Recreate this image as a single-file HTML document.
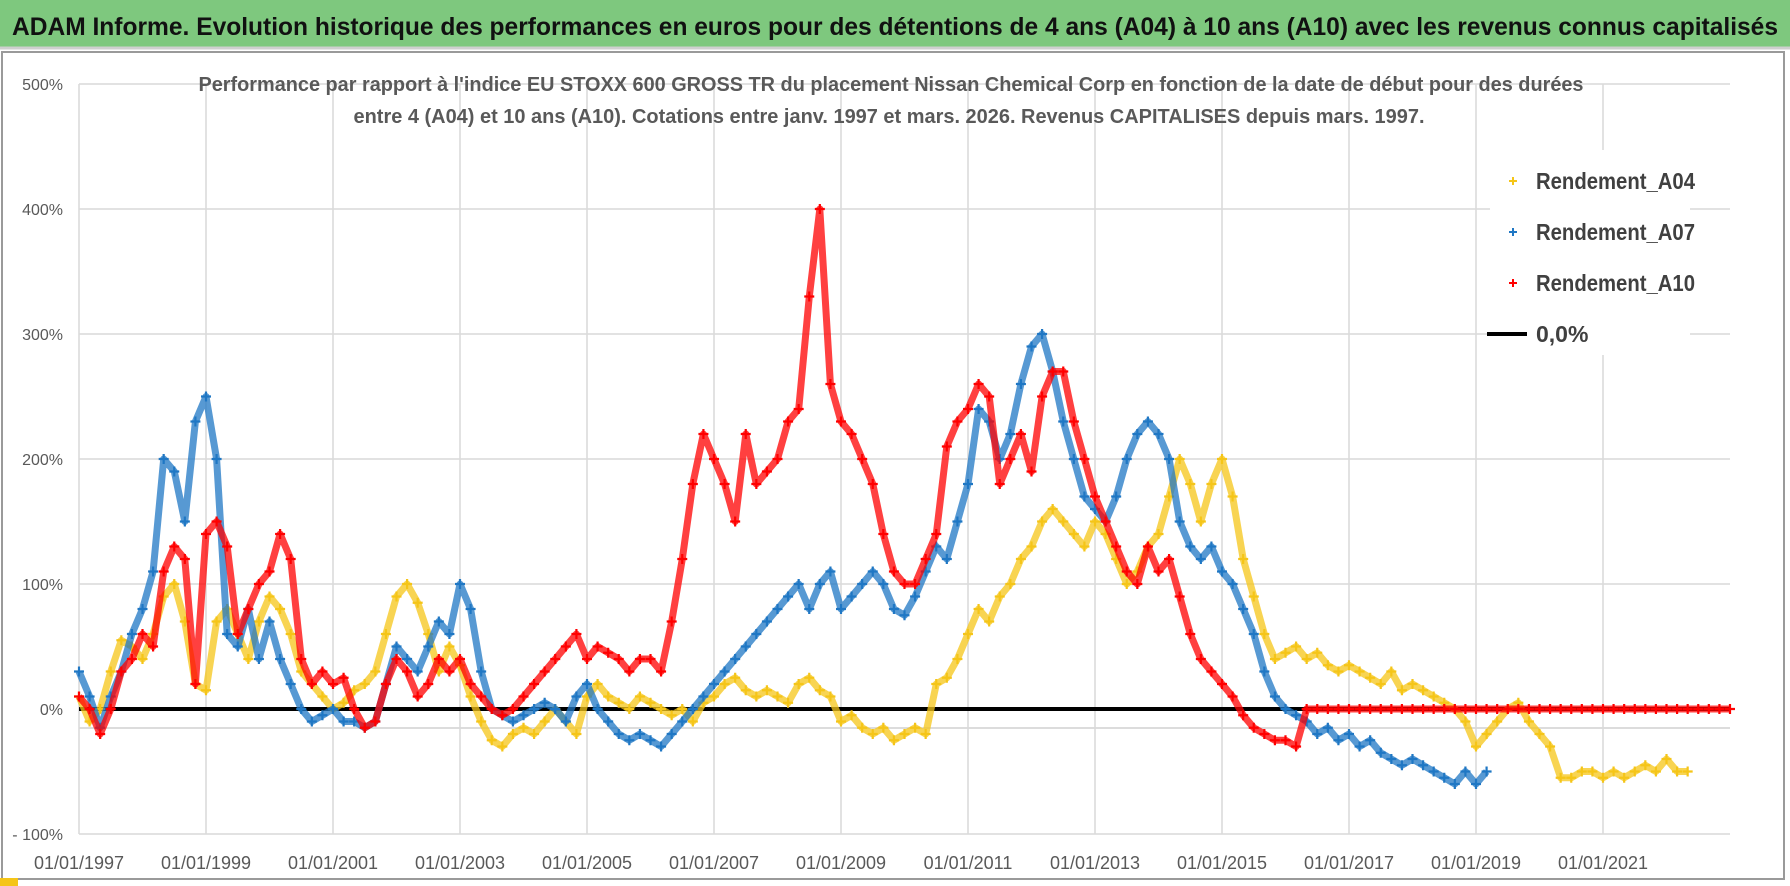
<!DOCTYPE html>
<html><head><meta charset="utf-8"><style>
html,body{margin:0;padding:0;background:#fff}
svg{display:block}
text{font-family:"Liberation Sans",sans-serif}
</style></head><body>
<svg id="chart" width="1790" height="886" viewBox="0 0 1790 886">
<rect x="0" y="0" width="1790" height="886" fill="#fff"/>
<rect x="0" y="0" width="1790" height="47" fill="#7ec87e"/>
<line x1="0" y1="48" x2="1790" y2="48" stroke="#cfcfcf" stroke-width="3"/>
<text x="12" y="35" font-size="25" font-weight="bold" fill="#111" textLength="1766" lengthAdjust="spacingAndGlyphs">ADAM Informe. Evolution historique des performances en euros pour des détentions de 4 ans (A04) à 10 ans (A10) avec les revenus connus capitalisés</text>
<rect x="2" y="52" width="1782" height="827" fill="none" stroke="#9a9a9a" stroke-width="2"/>
<rect x="0" y="878" width="18" height="8" fill="#f5c518"/>
<g id="grid"></g>
<g id="axes"></g>
<g id="series"></g>
<rect x="1490" y="150" width="200" height="205" fill="#fff"/>
<text x="891" y="91" font-size="20.5" font-weight="bold" fill="#595959" text-anchor="middle" textLength="1385" lengthAdjust="spacingAndGlyphs">Performance par rapport à l'indice EU STOXX 600 GROSS TR  du placement Nissan Chemical Corp en fonction de la date de début pour des durées</text>
<text x="889" y="123" font-size="20.5" font-weight="bold" fill="#595959" text-anchor="middle" textLength="1071" lengthAdjust="spacingAndGlyphs">entre 4 (A04) et 10 ans (A10).  Cotations entre janv. 1997 et mars. 2026.  Revenus CAPITALISES depuis mars. 1997.</text>
<g>
 <g><path d="M1509 181h8M1513 177v8" stroke="#f5c518" stroke-width="2"/><text x="1536" y="189" font-size="23" font-weight="bold" fill="#404040" textLength="159" lengthAdjust="spacingAndGlyphs">Rendement_A04</text></g>
 <g><path d="M1509 232h8M1513 228v8" stroke="#1f77c4" stroke-width="2"/><text x="1536" y="240" font-size="23" font-weight="bold" fill="#404040" textLength="159" lengthAdjust="spacingAndGlyphs">Rendement_A07</text></g>
 <g><path d="M1509 283h8M1513 279v8" stroke="#ff0000" stroke-width="2"/><text x="1536" y="291" font-size="23" font-weight="bold" fill="#404040" textLength="159" lengthAdjust="spacingAndGlyphs">Rendement_A10</text></g>
 <g><line x1="1487" y1="334" x2="1527" y2="334" stroke="#000" stroke-width="4"/><text x="1536" y="342" font-size="23" font-weight="bold" fill="#404040">0,0%</text></g>
</g>
</svg>
<script>
const yTicks=[500,400,300,200,100,0,-100];
const yTickLabels=["500%","400%","300%","200%","100%","0%","- 100%"];
const xTickYears=[1997,1999,2001,2003,2005,2007,2009,2011,2013,2015,2017,2019,2021];
const xTickLabels=["01/01/1997","01/01/1999","01/01/2001","01/01/2003","01/01/2005","01/01/2007","01/01/2009","01/01/2011","01/01/2013","01/01/2015","01/01/2017","01/01/2019","01/01/2021"];
const startYear=1997, perYear=6;
const a04=[10,-10,0,30,55,50, 40,60,90,100,70,20, 15,70,80,60,40,70, 90,80,60,30,20,10, 0,5,15,20,30,60, 90,100,85,60,30,50, 35,10,-10,-25,-30,-20, -15,-20,-10,0,-10,-20, 10,20,10,5,0,10, 5,0,-5,0,-10,5, 10,20,25,15,10,15, 10,5,20,25,15,10, -10,-5,-15,-20,-15,-25, -20,-15,-20,20,25,40, 60,80,70,90,100,120, 130,150,160,150,140,130, 150,140,120,100,110,130, 140,170,200,180,150,180, 200,170,120,90,60,40, 45,50,40,45,35,30, 35,30,25,20,30,15, 20,15,10,5,0,-10, -30,-20,-10,0,5,-10, -20,-30,-55,-55,-50,-50, -55,-50,-55,-50,-45,-50, -40,-50,-50];
const a07=[30,10,-15,10,30,60, 80,110,200,190,150,230, 250,200,60,50,80,40, 70,40,20,0,-10,-5, 0,-10,-10,-15,-10,20, 50,40,30,50,70,60, 100,80,30,0,-5,-10, -5,0,5,0,-10,10, 20,0,-10,-20,-25,-20, -25,-30,-20,-10,0,10, 20,30,40,50,60,70, 80,90,100,80,100,110, 80,90,100,110,100,80, 75,90,110,130,120,150, 180,240,230,200,220,260, 290,300,270,230,200,170, 160,150,170,200,220,230, 220,200,150,130,120,130, 110,100,80,60,30,10, 0,-5,-10,-20,-15,-25, -20,-30,-25,-35,-40,-45, -40,-45,-50,-55,-60,-50, -60,-50];
const a10=[10,0,-20,0,30,40, 60,50,110,130,120,20, 140,150,130,60,80,100, 110,140,120,40,20,30, 20,25,0,-15,-10,20, 40,30,10,20,40,30, 40,20,10,0,-5,0, 10,20,30,40,50,60, 40,50,45,40,30,40, 40,30,70,120,180,220, 200,180,150,220,180,190, 200,230,240,330,400,260, 230,220,200,180,140,110, 100,100,120,140,210,230, 240,260,250,180,200,220, 190,250,270,270,230,200, 170,150,130,110,100,130, 110,120,90,60,40,30, 20,10,-5,-15,-20,-25, -25,-30,0,0,0,0, 0,0,0,0,0,0, 0,0,0,0,0,0, 0,0,0,0,0,0, 0,0,0,0,0,0, 0,0,0,0,0,0, 0,0,0,0,0,0, 0];
const NS="http://www.w3.org/2000/svg";
const x0=79, pxYear=63.5, plotRight=1730, y0=709, pxPct=1.25;
function xs(yr){return x0+pxYear*(yr-startYear);}
function ys(v){return y0-pxPct*v;}
function mk(tag,attrs,parent){const e=document.createElementNS(NS,tag);for(const k in attrs)e.setAttribute(k,attrs[k]);parent.appendChild(e);return e;}
const grid=document.getElementById('grid'),axes=document.getElementById('axes'),ser=document.getElementById('series');
yTicks.forEach((t,i)=>{
 if(t>0){const l=mk('line',{x1:x0,x2:plotRight,y1:ys(t),y2:ys(t),stroke:'#d9d9d9','stroke-width':1.5},grid);
 
 }
 const tx=mk('text',{x:63,y:ys(t)+6,'font-size':16,fill:'#595959','text-anchor':'end'},axes);
 tx.textContent=yTickLabels[i];
 
 
});
const bl=mk('line',{x1:x0,x2:plotRight,y1:ys(-100),y2:ys(-100),stroke:'#d9d9d9','stroke-width':1.5},grid);


const gl=mk('line',{x1:x0,x2:plotRight,y1:728,y2:728,stroke:'#d0d0d0','stroke-width':1.5},grid);


xTickYears.forEach((yr,i)=>{
 const l=mk('line',{x1:xs(yr),x2:xs(yr),y1:ys(500),y2:ys(-100),stroke:'#d9d9d9','stroke-width':1.5},grid);
 
 
 const tx=mk('text',{x:xs(yr),y:869,'font-size':18,fill:'#595959','text-anchor':'middle'},axes);
 tx.textContent=xTickLabels[i];
 
 
});
const zl=mk('line',{x1:x0,x2:plotRight,y1:ys(0),y2:ys(0),stroke:'#000','stroke-width':4},axes);


function drawSeries(vals,color,name){
 const g=mk('g',{},ser);
 
 
 const pts=vals.map((v,i)=>xs(startYear+i/perYear).toFixed(1)+','+ys(v).toFixed(1)).join(' ');
 mk('polyline',{points:pts,fill:'none',stroke:color,'stroke-width':7,'stroke-opacity':0.75,'stroke-linejoin':'round'},g);
 vals.forEach((v,i)=>{
  const x=xs(startYear+i/perYear),y=ys(v);
  const p=mk('path',{d:`M${x-5} ${y}h10M${x} ${y-5}v10`,stroke:color,'stroke-width':2.2},g);
  
  
 });
}
drawSeries(a04,'#f5c518','series-a04');
drawSeries(a07,'#1f77c4','series-a07');
drawSeries(a10,'#ff0000','series-a10');
</script>
</body></html>
